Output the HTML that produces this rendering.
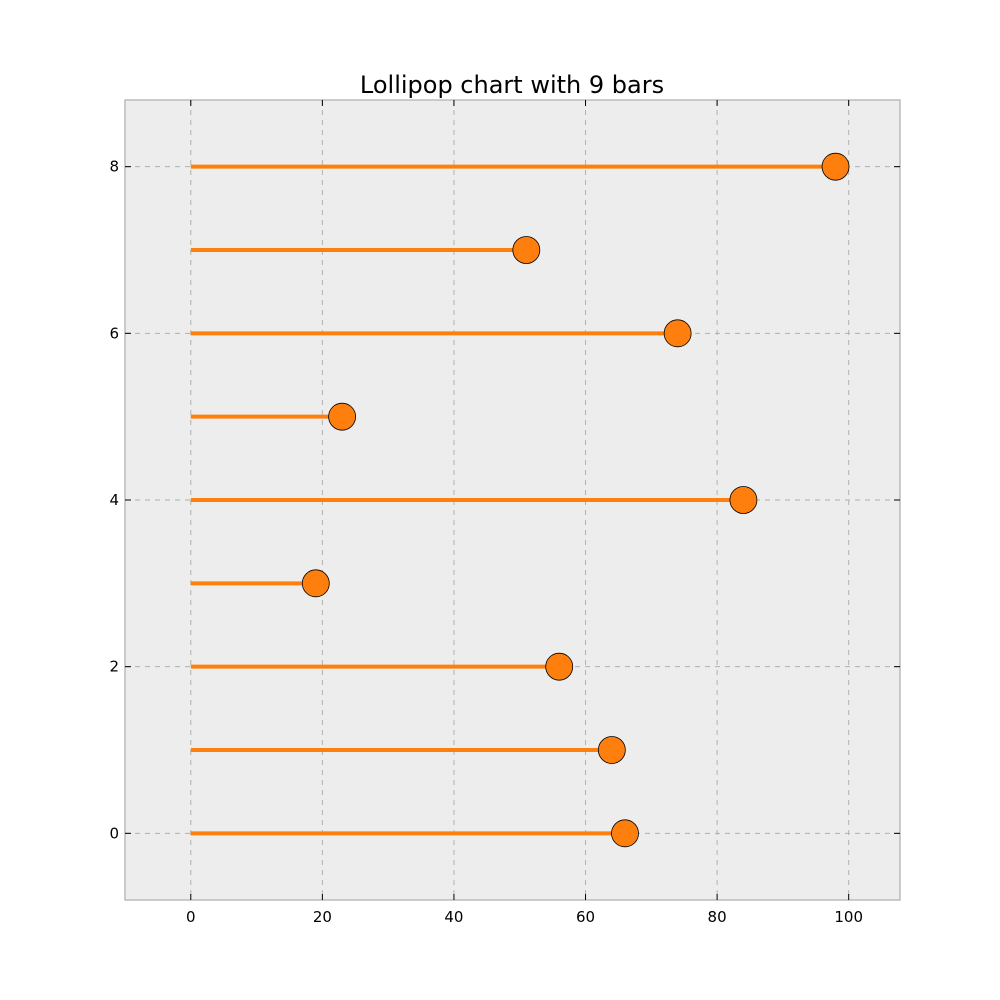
<!DOCTYPE html>
<html><head><meta charset="utf-8"><style>
body{margin:0;background:#fff;}
svg{display:block;font-family:"DejaVu Sans","Liberation Sans",sans-serif;}
</style></head><body>
<svg id="chart" width="1000" height="1000" viewBox="0 0 1000 1000">
<rect x="0" y="0" width="1000" height="1000" fill="#fff"/>
<text x="512" y="93" font-size="24" text-anchor="middle" fill="#000">Lollipop chart with 9 bars</text>
<rect x="125" y="100" width="775" height="800" fill="#ededed" stroke="#bbb" stroke-width="1.5"/>
<g id="grid"></g><g id="marks"></g><g id="axes"></g>
</svg>
<script>
const categories=[0,1,2,3,4,5,6,7,8];
const values=[66,64,56,19,84,23,74,51,98];
const xTicks=[0,20,40,60,80,100];
const yTicks=[0,2,4,6,8];
const X0=125,X1=900,Y0=900,Y1=100,xmin=-10,xmax=107.8,ymin=-0.8,ymax=8.8;
const ns="http://www.w3.org/2000/svg";
function sx(v){return X0+(v-xmin)/(xmax-xmin)*(X1-X0);}
function sy(v){return Y0-(v-ymin)/(ymax-ymin)*(Y0-Y1);}
function mk(tag,attrs,parent){const e=document.createElementNS(ns,tag);for(const k in attrs)e.setAttribute(k,attrs[k]);document.getElementById(parent).appendChild(e);return e;}
xTicks.forEach(t=>{
  const g=mk('line',{x1:sx(t),x2:sx(t),y1:Y1,y2:Y0,stroke:'#b0b0b0','stroke-dasharray':'5,5','stroke-width':1},'grid');
  
  
  mk('line',{x1:sx(t),x2:sx(t),y1:Y0,y2:Y0-6,stroke:'#000'},'axes');
  mk('line',{x1:sx(t),x2:sx(t),y1:Y1,y2:Y1+6,stroke:'#000'},'axes');
  const l=mk('text',{x:sx(t),y:Y0+22,'font-size':15,'text-anchor':'middle',fill:'#000'},'axes');
  l.textContent=t;
  
  
});
yTicks.forEach(t=>{
  const g=mk('line',{x1:X0,x2:X1,y1:sy(t),y2:sy(t),stroke:'#b0b0b0','stroke-dasharray':'5,5','stroke-width':1},'grid');
  
  
  mk('line',{x1:X0,x2:X0+6,y1:sy(t),y2:sy(t),stroke:'#000'},'axes');
  mk('line',{x1:X1,x2:X1-6,y1:sy(t),y2:sy(t),stroke:'#000'},'axes');
  const l=mk('text',{x:X0-6,y:sy(t)+5,'font-size':15,'text-anchor':'end',fill:'#000'},'axes');
  l.textContent=t;
  
  
});
categories.forEach((c,i)=>{
  const s=mk('line',{x1:sx(0),x2:sx(values[i]),y1:sy(c),y2:sy(c),stroke:'#ff7f0e','stroke-width':4},'marks');
  
  
  const d=mk('circle',{cx:sx(values[i]),cy:sy(c),r:13.5,fill:'#ff7f0e',stroke:'#000','stroke-width':0.8},'marks');
  
  
});
</script>
</body></html>
